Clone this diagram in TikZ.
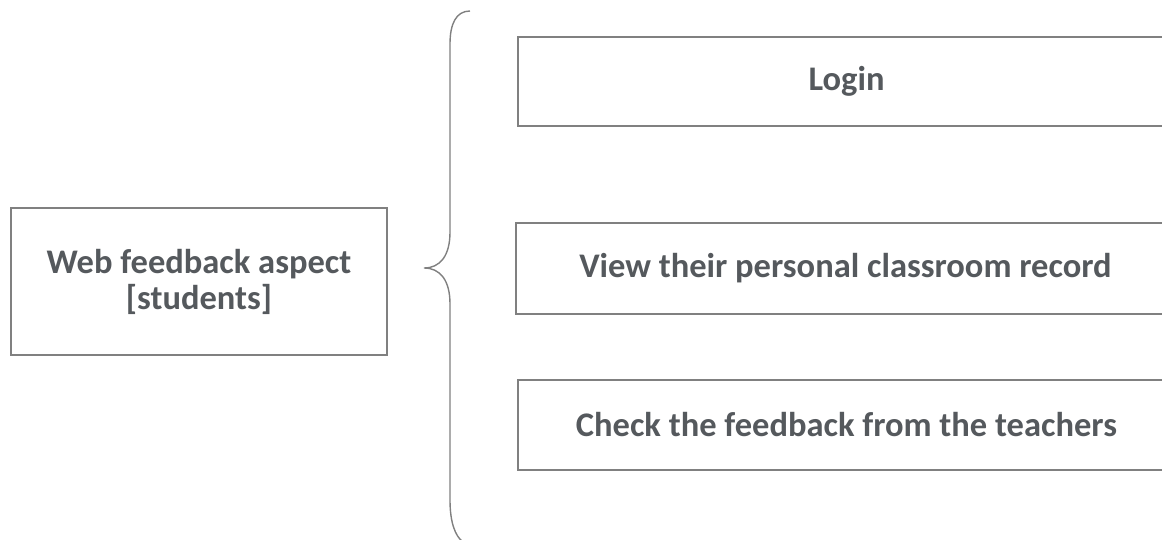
\documentclass[tikz,border=0pt]{standalone}
\usepackage{fontspec}
\setmainfont{Carlito}
\usetikzlibrary{calc}
\definecolor{boxline}{HTML}{808080}
\definecolor{boxtext}{HTML}{55595D}
\tikzset{
	itembox/.style={draw=boxline, line width=1.4pt, align=center, inner sep=0pt,
		font=\fontsize{34.5}{36}\selectfont\bfseries, text=boxtext}
}

\begin{document}
\begin{tikzpicture}[x=1pt, y=-1pt]
			%%%%% START %%%%%
			
			\useasboundingbox (0, 0) rectangle (1162, 540);
			
			\node[itembox, minimum width=376, minimum height=147] (aspect) at (199, 281.5) {Web feedback aspect\\{}[students]};
			
			\node[itembox, minimum width=657, minimum height=89] (login) at (846.5, 81.5) {Login};
			\node[itembox, minimum width=659, minimum height=91] (record) at (845.5, 268.5) {View their personal classroom record};
			\node[itembox, minimum width=657, minimum height=90] (teachers) at (846.5, 425) {Check the feedback from the teachers};
			
			\draw[boxline, line width=1.4pt] (470, 11) .. controls (456, 11) and (450, 24) .. (450, 44) -- (450, 232)
				.. controls (450, 256) and (440, 268) .. (424, 268)
				.. controls (440, 268) and (450, 280) .. (450, 304) -- (450, 500)
				.. controls (450, 522) and (455, 536) .. (463, 542);
			
			%%%%% END %%%%%
		\end{tikzpicture}
\end{document}
